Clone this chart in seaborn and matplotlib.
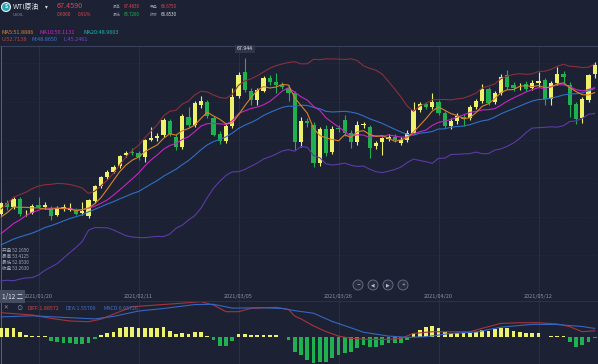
import numpy as np
import pandas as pd
import matplotlib
matplotlib.use("Agg")
import matplotlib.pyplot as plt
import seaborn as sns
from matplotlib.patches import Circle
from matplotlib.lines import Line2D
from matplotlib.transforms import blended_transform_factory

# ---------------- data ----------------
warmup_close = [46.99, 47.62, 47.82, 48.36, 49.10, 47.74, 47.02, 48.12, 48.23, 47.62,
                48.00, 48.40, 48.52, 47.62, 49.93, 50.63, 50.83, 52.24, 52.25]

open_ = [52.17, 53.30, 52.85, 53.70, 52.20, 52.25, 53.10, 52.90, 52.75, 52.05,
         52.75, 52.60, 52.55, 52.20, 51.95, 53.45, 55.00, 55.90, 56.40, 57.00,
         58.10, 58.45, 58.30, 57.90, 59.60, 59.85, 60.14, 61.60, 59.95, 58.93,
         61.95, 61.15, 63.20, 63.45, 61.90, 60.20, 59.50, 61.10, 64.10, 66.50,
         64.60, 63.69, 64.60, 65.90, 65.50, 65.20, 64.90, 64.40, 59.40, 61.60,
         61.20, 57.30, 60.70, 58.40, 60.90, 61.70, 60.30, 59.40, 61.20, 61.00,
         59.00, 59.40, 59.70, 59.95, 59.35, 59.64, 60.35, 62.70, 63.25, 63.00,
         63.50, 62.40, 61.05, 61.60, 62.00, 61.90, 63.00, 63.60, 64.80, 63.50,
         64.40, 66.20, 65.20, 64.95, 65.30, 64.90, 65.40, 65.70, 63.80, 65.40,
         66.30, 65.20, 63.30, 61.90, 63.70, 66.30]
high = [53.41, 53.60, 53.90, 53.90, 52.60, 53.20, 53.90, 53.35, 53.00, 53.00,
        53.20, 53.30, 52.80, 53.36, 53.70, 55.10, 56.00, 56.55, 57.10, 58.10,
        58.55, 58.85, 58.50, 59.70, 60.95, 60.30, 61.90, 61.80, 60.20, 62.30,
        63.00, 63.60, 64.10, 63.70, 62.10, 60.50, 61.30, 64.90, 66.50, 67.94,
        64.90, 64.90, 66.10, 66.20, 66.40, 65.50, 65.20, 64.60, 62.00, 61.90,
        61.50, 61.00, 61.20, 61.10, 61.20, 62.20, 60.60, 61.60, 61.50, 61.20,
        59.50, 59.95, 60.20, 60.20, 59.90, 60.60, 63.50, 63.50, 63.50, 64.40,
        63.70, 62.60, 61.90, 62.40, 62.30, 63.20, 63.80, 65.30, 65.00, 64.60,
        66.30, 66.70, 65.50, 65.40, 65.60, 65.70, 66.50, 65.90, 65.60, 67.00,
        66.60, 65.50, 63.50, 64.00, 66.30, 67.48]
low = [52.05, 52.60, 52.70, 51.90, 51.90, 52.10, 52.75, 52.70, 51.55, 51.90,
       52.40, 52.40, 52.00, 52.00, 51.75, 53.30, 54.80, 55.70, 56.25, 56.80,
       57.90, 58.10, 57.60, 57.40, 59.50, 59.50, 59.90, 60.00, 58.65, 58.70,
       61.00, 61.00, 62.90, 61.90, 60.00, 59.20, 59.30, 60.90, 63.90, 64.50,
       63.20, 63.20, 64.50, 65.20, 64.40, 64.80, 63.60, 58.60, 58.90, 61.00,
       56.90, 57.00, 58.00, 58.20, 60.40, 60.00, 58.80, 59.10, 60.90, 57.80,
       58.70, 58.10, 59.50, 59.40, 59.10, 59.40, 60.20, 62.50, 62.80, 62.80,
       62.20, 60.80, 60.70, 61.30, 61.10, 61.70, 62.80, 63.40, 63.20, 63.30,
       64.20, 64.80, 64.60, 64.70, 64.60, 64.70, 65.00, 63.20, 63.20, 65.20,
       65.30, 62.00, 61.30, 61.40, 63.50, 65.90]
close = [53.26, 52.85, 53.65, 52.10, 52.25, 52.95, 52.90, 53.05, 51.95, 52.75,
         52.80, 52.75, 52.15, 52.45, 53.56, 54.98, 55.90, 56.40, 56.90, 58.00,
         58.33, 58.35, 57.90, 59.60, 59.85, 60.00, 61.66, 60.20, 58.93, 62.06,
         61.15, 63.38, 63.60, 62.06, 60.14, 59.50, 61.05, 63.99, 66.22, 64.70,
         63.69, 64.70, 65.90, 65.50, 65.20, 65.00, 64.40, 59.40, 61.60, 61.40,
         57.30, 60.70, 58.30, 60.75, 60.75, 60.30, 59.40, 61.20, 61.25, 58.83,
         59.30, 59.80, 59.95, 59.60, 59.64, 60.35, 62.67, 63.30, 63.00, 63.50,
         62.40, 61.05, 61.55, 62.10, 61.80, 62.95, 63.60, 64.80, 63.40, 64.40,
         66.00, 65.00, 64.90, 65.05, 64.80, 65.40, 65.60, 63.80, 65.40, 66.30,
         66.00, 63.20, 61.80, 63.80, 66.20, 67.20]

macd_hist = [0.66, 0.66, 0.66, 0.34, 0.13, 0.08, 0.08, 0.02, -0.31, -0.39,
             -0.47, -0.52, -0.60, -0.58, -0.52, -0.21, 0.13, 0.26, 0.39, 0.66,
             0.73, 0.73, 0.66, 0.66, 0.71, 0.66, 0.73, 0.47, 0.21, 0.26,
             0.21, 0.37, 0.37, 0.08, -0.26, -0.73, -0.73, -0.31, 0.18, 0.18,
             0.10, 0.10, 0.10, 0.10, 0.10, -0.05, -0.26, -1.18, -1.44, -1.84,
             -2.10, -1.97, -1.97, -1.71, -1.44, -1.31, -1.18, -0.92, -0.66, -0.79,
             -0.79, -0.66, -0.52, -0.52, -0.47, -0.26, 0.26, 0.52, 0.73, 0.84,
             0.66, 0.34, 0.26, 0.26, 0.26, 0.31, 0.39, 0.52, 0.47, 0.58,
             0.66, 0.66, 0.47, 0.39, 0.31, 0.26, 0.26, -0.03, 0.08, 0.08,
             0.08, -0.39, -0.79, -0.66, -0.39, -0.13]

diff_idx = [0, 5, 8, 11, 14, 16, 19, 21, 27, 30, 32, 34, 36, 38, 40, 44, 46, 47, 48,
            50, 52, 54, 56, 59, 62, 64, 66, 69, 75, 77, 80, 83, 86, 89, 91, 93, 95]
diff_val = [1.89, 1.71, 1.44, 1.24, 1.18, 1.38, 1.97, 2.36, 2.57, 2.68, 2.76, 2.49, 1.97,
            1.97, 2.23, 2.31, 2.15, 1.62, 1.40, 0.85, 0.40, 0.05, -0.13, -0.21, -0.21,
            -0.13, 0.26, 0.39, 0.39, 0.66, 1.05, 1.10, 1.10, 1.00, 0.79, 0.39, 0.47]
dea_idx = [0, 5, 10, 15, 18, 22, 26, 31, 34, 37, 42, 45, 47, 50, 53, 56, 58, 62, 65,
           68, 72, 76, 80, 85, 89, 93, 95]
dea_val = [1.56, 1.65, 1.52, 1.40, 1.60, 2.02, 2.22, 2.53, 2.55, 2.25, 2.28, 2.22, 2.05,
           1.85, 1.20, 0.70, 0.35, 0.05, -0.05, 0.00, 0.26, 0.37, 0.75, 0.97, 0.96,
           0.80, 0.65]

date_idx = [6, 22, 38, 54, 70, 86]
date_labels = ["2021/01/20", "2021/02/11", "2021/03/05", "2021/03/26", "2021/04/20", "2021/05/12"]
grid_levels = [67.43, 63.53, 59.64, 55.74, 51.84, 47.95]

# ---------------- style ----------------
BG = '#1c2233'
UPC = '#eef26a'
DNC = '#1fb04f'
GRID = '#283044'
RED = '#e0454f'
GREEN = '#22b14c'
GRAY = '#8b92a5'
WHITE = '#dfe3ec'

sns.set_theme(style='dark', rc={'axes.facecolor': BG, 'figure.facecolor': BG})
plt.rcParams['font.family'] = ['Noto Sans CJK SC', 'DejaVu Sans']

W, H = 598, 364
fig = plt.figure(figsize=(W / 100, H / 100), dpi=100, facecolor=BG)


def fy(y):
    return 1 - y / H


MAIN_TOP, MAIN_BOT = 46, 300
ax = fig.add_axes([0, fy(MAIN_BOT), 1, (MAIN_BOT - MAIN_TOP) / H])
axm = fig.add_axes([0, 0, 1, (H - MAIN_BOT) / H])

n = len(close)
idx = np.arange(n)
df = pd.DataFrame({'i': idx, 'open': open_, 'high': high, 'low': low, 'close': close})

allc = pd.Series(warmup_close + close)
n0 = len(warmup_close)
mid = allc.rolling(20).mean()
sd = allc.rolling(20).std(ddof=0)
lines = pd.DataFrame({
    'i': idx,
    'ma5': allc.rolling(5).mean().iloc[n0:].values,
    'ma10': allc.rolling(10).mean().iloc[n0:].values,
    'up': (mid + 2 * sd).iloc[n0:].values,
    'mid': mid.iloc[n0:].values,
    'lo': (mid - 2 * sd).iloc[n0:].values,
})

for a in (ax, axm):
    a.set_facecolor(BG)
    a.set_xlim(-0.16, 95.52)
    for s in a.spines.values():
        s.set_visible(False)
    a.set_xticks(date_idx)
    a.tick_params(length=0, labelbottom=False, labelleft=False)
    a.grid(True, axis='x', color=GRID, lw=0.7)

ax.set_ylim(43.44, 69.15)
ax.set_yticks(grid_levels)
ax.grid(True, axis='y', color=GRID, lw=0.6, ls=(0, (1, 2)))
axm.set_ylim(-2.15, 2.89)
axm.set_yticks([])

# crosshair vertical
ax.axvline(0, color='#59627a', lw=0.7, zorder=1)
axm.axvline(0, color='#59627a', lw=0.7, zorder=1)

# candles
colors = np.where(df['close'] >= df['open'], UPC, DNC)
ax.vlines(df['i'], df['low'], df['high'], colors=colors, lw=0.8, zorder=3)
body = (df['close'] - df['open']).abs().clip(lower=0.07)
ax.bar(df['i'], body, bottom=np.minimum(df['open'], df['close']), width=0.66,
       color=colors, linewidth=0, zorder=4)

# indicator lines
for col, c in [('up', '#8a2f3c'), ('lo', '#5b3aa6'), ('mid', '#2f6fc6'),
               ('ma10', '#c824c4'), ('ma5', '#d9822b')]:
    sns.lineplot(data=lines, x='i', y=col, ax=ax, color=c, lw=0.8, zorder=5)
ax.set_xlabel('')
ax.set_ylabel('')

# MACD pane
hcol = np.where(np.array(macd_hist) >= 0, UPC, DNC)
axm.bar(idx, macd_hist, width=0.62, color=hcol, linewidth=0, zorder=3)
sns.lineplot(x=diff_idx, y=diff_val, ax=axm, color='#a8343c', lw=0.8, zorder=4)
sns.lineplot(x=dea_idx, y=dea_val, ax=axm, color='#3566c2', lw=0.8, zorder=4)
axm.set_xlabel('')
axm.set_ylabel('')

# date labels
tr = blended_transform_factory(ax.transData, ax.transAxes)
for i, lab in zip(date_idx, date_labels):
    ax.text(i, 0.012, lab, transform=tr, ha='center', va='center', fontsize=4,
            color=GRAY, zorder=6)

# separators
fig.add_artist(Line2D([0, 1], [fy(46), fy(46)], color='#38415a', lw=0.8))
fig.add_artist(Line2D([0, 1], [fy(300.5), fy(300.5)], color='#2a3246', lw=0.8))

# max label
fig.text(245 / W, fy(49), '67.944', ha='center', va='center', fontsize=3.8, color=WHITE,
         bbox=dict(boxstyle='square,pad=0.35', fc='#2e3649', ec='none'))


def T(x, y, s, c, size, ha='left', **kw):
    fig.text(x / W, fy(y), s, color=c, fontsize=size, ha=ha, va='center', **kw)


# header
fig.add_artist(Circle((6 / 100, (H - 7) / 100), 0.045, transform=fig.dpi_scale_trans,
                      fc='#2aa6b6', ec='#e8f4f6', lw=0.8))
T(6, 7, 'S', 'white', 3.5, ha='center', fontweight='bold')
T(13, 6.5, 'WTI原油', WHITE, 5)
T(45, 6.5, '▾', WHITE, 4)
T(57, 6.5, '67.4590', RED, 5.2)
T(113, 6.5, '最高', GRAY, 2.8)
T(124, 6.5, '67.4830', RED, 3.2)
T(150, 6.5, '开盘', GRAY, 2.8)
T(161, 6.5, '66.6750', RED, 3.2)
T(13, 14.5, 'USOIL', GRAY, 2.8)
T(57, 14.5, '0.6060', RED, 3.4)
T(78, 14.5, '0.91%', RED, 3.4)
T(113, 14.5, '最低', GRAY, 2.8)
T(124, 14.5, '65.7260', GREEN, 3.2)
T(150, 14.5, '昨收', GRAY, 2.8)
T(161, 14.5, '66.8530', WHITE, 3.2)

# MA legends
T(1, 32, 'MA5:51.8886', '#d9822b', 4)
T(40, 32, 'MA10:50.1131', '#c824c4', 4)
T(84, 32, 'MA20:48.9603', '#1fb3b3', 4)
T(1, 39.5, 'U:52.7138', '#b8404a', 4)
T(32, 39.5, 'M:48.8650', '#3d72d0', 4)
T(63, 39.5, 'L:45.2461', '#7446c4', 4)

# info box
for k, (lab, val) in enumerate([('开盘', '52.1650'), ('最高', '53.4125'),
                                ('最低', '52.0530'), ('收盘', '53.2630')]):
    T(2, 250 + 6.2 * k, f'{lab} {val}', '#a3a9b8', 3.3)

# crosshair date box
T(2, 296.5, '1/12 二', WHITE, 4.6,
  bbox=dict(boxstyle='square,pad=0.35', fc='#454d62', ec='none'))

# MACD legend
T(6, 308, '✕', GRAY, 4, ha='center')
T(19, 308, '⊙', GRAY, 4.5, ha='center')
T(28, 308, 'DIFF:1.88572', '#d0454b', 3.8)
T(65, 308, 'DEA:1.55709', '#3d72d0', 3.8)
T(104, 308, 'MACD:0.65726', '#3d72d0', 3.8)

# zoom buttons
for x, sym in [(358, '−'), (373, '◀'), (388, '▶'), (403, '+')]:
    fig.add_artist(Circle((x / 100, (H - 285) / 100), 0.05, transform=fig.dpi_scale_trans,
                          fc='#262d3f', ec='#6b7388', lw=0.6))
    T(x, 285, sym, '#b9bfcc', 3.3, ha='center', family='DejaVu Sans')

fig.savefig('out.png', dpi=100, facecolor=BG)
